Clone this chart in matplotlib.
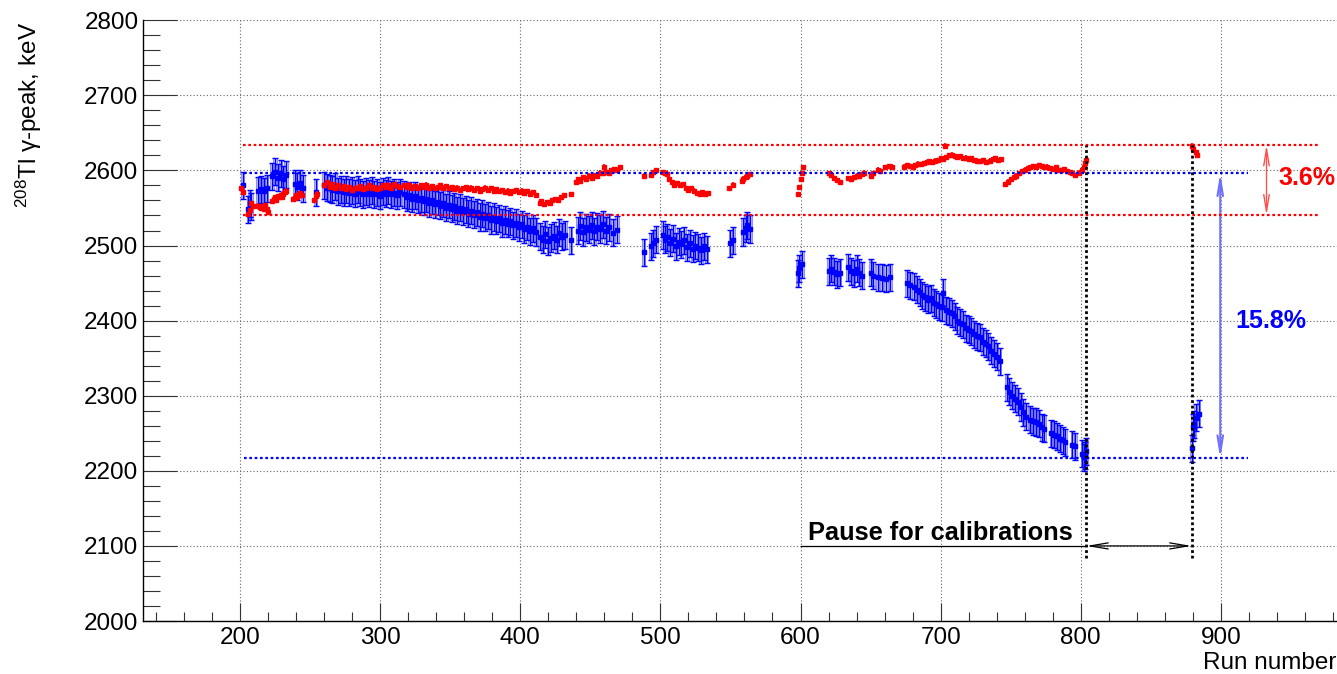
import numpy as np
import matplotlib
matplotlib.use('Agg')
import matplotlib.pyplot as plt
from matplotlib.ticker import MultipleLocator

plt.rcParams['font.family'] = ['Liberation Sans', 'DejaVu Sans']
plt.rcParams['mathtext.fontset'] = 'custom'
plt.rcParams['mathtext.rm'] = 'Liberation Sans'
plt.rcParams['mathtext.default'] = 'rm'

# red series (corrected peak position), run number / keV
red_run = [201, 202,
           206, 207, 208, 209,
           213, 214, 215, 216, 217, 218, 219, 220,
           223, 224, 225, 226, 227, 228, 229, 230, 231, 232, 233,
           238, 239, 240, 241, 242, 243, 244,
           253, 254, 255,
           260, 262, 264, 266, 268, 270, 272, 274, 276, 278,
           280, 282, 284, 286, 288, 290, 292, 294, 296, 298,
           300, 302, 304, 306, 308, 310, 312, 314,
           317, 319, 321, 323, 325, 327, 329, 331, 333, 335,
           337, 339, 341, 343, 345, 347, 349, 351, 353, 355,
           357, 359, 361, 363, 365, 367, 369, 371, 373, 375,
           377, 379, 381, 383, 385, 387, 389, 391, 393, 395,
           397, 399, 401, 403, 405, 407, 409, 411,
           414, 415, 417, 419, 421, 423, 425, 427, 429, 431, 436,
           440, 441, 443, 445, 447, 449, 451, 453, 455, 457,
           459, 460, 461, 463, 465, 467, 469, 471,
           488, 493, 495, 497,
           502, 503, 505, 506, 508, 510, 512, 514, 516, 518,
           520, 522, 524, 526, 528, 530, 532, 534,
           549, 552,
           558, 559, 561, 562, 564,
           598, 599, 600, 601, 602,
           620, 622, 624, 626, 628,
           634, 636, 638, 640, 642, 644, 645,
           650, 652, 655, 657, 660, 663, 665,
           674, 676, 678, 680, 682, 684, 686, 688, 690, 692,
           694, 696, 698, 700, 702, 703, 704, 706,
           708, 710, 712, 714, 716, 718, 720, 722, 724, 726,
           728, 730, 732, 735, 737, 739, 741, 743,
           746, 748, 750, 752, 754, 756, 758,
           760, 762, 764, 766, 768, 770, 772, 774, 776, 778,
           780, 782, 784, 786, 788, 790, 792, 794, 796,
           799, 801, 802, 803, 804,
           879, 880, 882, 883]
red_kev = [2576, 2571,
           2542, 2547, 2556, 2552,
           2553, 2551, 2550, 2552, 2549, 2554, 2548, 2545,
           2559, 2562, 2564, 2561, 2566, 2565, 2567, 2565, 2569, 2571, 2573,
           2562, 2563, 2567, 2565, 2569, 2570, 2567,
           2560, 2566, 2569,
           2580, 2584, 2578, 2582, 2577, 2580, 2576, 2579, 2575, 2578,
           2574, 2577, 2576, 2579, 2575, 2577, 2580, 2576, 2578, 2575,
           2577, 2580, 2578, 2581, 2577, 2582, 2579, 2578,
           2580, 2578, 2581, 2577, 2579, 2576, 2580, 2578, 2581, 2577,
           2579, 2576, 2578, 2580, 2577, 2579, 2576, 2578, 2575, 2577,
           2574, 2576, 2578, 2575, 2577, 2574, 2576, 2573, 2575, 2577,
           2574, 2576, 2573, 2575, 2572, 2574, 2571, 2573, 2570, 2572,
           2574, 2571, 2573, 2570, 2572, 2569, 2571, 2567,
           2556, 2559, 2555, 2558, 2557, 2560, 2562, 2561, 2564, 2567, 2568,
           2584, 2588, 2586, 2591, 2589, 2593, 2590, 2594, 2592, 2597,
           2596, 2605, 2598, 2596, 2600, 2602, 2601, 2604,
           2593, 2594, 2598, 2600,
           2598, 2597, 2595, 2588, 2584, 2581, 2583, 2580, 2582, 2576,
           2574, 2576, 2573, 2570, 2568, 2571, 2569, 2570,
           2576, 2581,
           2586, 2589, 2591, 2593, 2595,
           2568, 2578, 2588, 2596, 2604,
           2596, 2594, 2590, 2587, 2584,
           2590, 2589, 2591, 2593, 2592, 2595, 2597,
           2592, 2596, 2601, 2599, 2604, 2606, 2605,
           2605, 2607, 2606, 2604, 2607, 2609, 2608, 2610, 2611, 2612,
           2611, 2613, 2614, 2616, 2615, 2633, 2618, 2620,
           2621, 2619, 2618, 2619, 2616, 2617, 2615, 2616, 2614, 2613,
           2612, 2614, 2611, 2613, 2615, 2616, 2614, 2615,
           2582, 2585, 2588, 2591, 2593, 2596, 2599,
           2601, 2603, 2604, 2606, 2605, 2607, 2606, 2604, 2605, 2603,
           2602, 2604, 2601, 2600, 2602, 2599, 2598, 2596, 2594,
           2597, 2601, 2605, 2610, 2614,
           2633, 2628, 2624, 2620]
red_err = 3

# blue series (raw peak position)
blue_run = [202,
            206, 207, 208,
            213, 215, 217, 219,
            223, 225, 227, 229, 231, 233,
            239, 241, 243, 245,
            254,
            260, 262, 264, 266, 268, 270, 272, 274, 276, 278,
            280, 282, 284, 286, 288, 290, 292, 294, 296, 298,
            300, 302, 304, 306, 308, 310, 312, 314,
            317, 319, 321, 323, 325, 327, 329, 331, 333, 335,
            337, 339, 341, 343, 345, 347, 349, 351, 353, 355,
            357, 359, 361, 363, 365, 367, 369, 371, 373, 375,
            377, 379, 381, 383, 385, 387, 389, 391, 393, 395,
            397, 399, 401, 403, 405, 407, 409, 411,
            414, 416, 418, 420, 422, 424, 426, 428, 430, 432, 436,
            441, 443, 445, 447, 449, 451, 453, 455, 457, 459,
            461, 463, 466, 469,
            488, 493, 495, 497,
            502, 503, 505, 507, 509, 511, 513, 515, 517, 519,
            521, 523, 525, 527, 529, 531, 533,
            550, 552,
            559, 561, 562, 564,
            598, 599, 601,
            620, 622, 624, 626, 628,
            634, 636, 638, 640, 642, 644,
            650, 652, 655, 658, 661, 664,
            676, 678, 681, 683, 685, 687, 689, 691, 693, 695,
            697, 699, 701, 702, 704, 706, 708, 710, 712, 714,
            716, 718, 720, 722, 724, 726, 728, 730, 732, 734,
            736, 738, 740, 742,
            747, 749, 751, 753, 755, 757, 759, 761, 764, 766,
            768, 770, 772, 774, 779, 781, 783, 785, 787, 789,
            794, 796,
            801, 802, 803, 804,
            879, 880, 881, 882, 884]
blue_kev = [2580,
            2548, 2556, 2552,
            2573, 2575, 2572, 2576,
            2592, 2598, 2590, 2596, 2588, 2594,
            2582, 2578, 2583, 2576,
            2571,
            2580, 2577, 2576, 2574, 2578, 2572, 2575, 2571, 2574, 2570,
            2573, 2569, 2574, 2571, 2568, 2572, 2569, 2573, 2568, 2571,
            2566, 2572, 2569, 2573, 2568, 2570, 2567, 2571,
            2568, 2564, 2567, 2562, 2566, 2561, 2563, 2559, 2562, 2556,
            2560, 2555, 2558, 2553, 2556, 2550, 2554, 2549, 2552, 2546,
            2550, 2545, 2548, 2542, 2546, 2541, 2544, 2538, 2542, 2537,
            2540, 2534, 2538, 2533, 2536, 2530, 2534, 2529, 2532, 2527,
            2530, 2524, 2528, 2522, 2525, 2519, 2523, 2518,
            2512, 2508, 2515, 2506, 2510, 2513, 2508, 2517, 2512, 2514, 2507,
            2520, 2526, 2518, 2524, 2521, 2527, 2519, 2525, 2522, 2528,
            2520, 2524, 2517, 2521,
            2491, 2499, 2503, 2508,
            2514, 2508, 2511, 2504, 2509, 2499, 2505, 2502, 2507, 2498,
            2503, 2496, 2500, 2497, 2494, 2499, 2495,
            2503, 2507,
            2518, 2523, 2527, 2522,
            2463, 2470, 2475,
            2466, 2469, 2465, 2462, 2464,
            2471, 2466, 2463, 2469, 2464, 2460,
            2464, 2460, 2458, 2457, 2456, 2458,
            2450, 2447, 2445, 2441, 2438, 2434, 2431, 2428, 2430, 2424,
            2422, 2419, 2418, 2437, 2414, 2412, 2410, 2406, 2400, 2397,
            2395, 2390, 2388, 2386, 2382, 2379, 2378, 2372, 2369, 2366,
            2360, 2356, 2352, 2346,
            2311, 2305, 2300, 2296, 2292, 2285, 2278, 2272, 2268, 2266,
            2265, 2263, 2258, 2256, 2250, 2248, 2246, 2243, 2241, 2238,
            2235, 2233,
            2223, 2218, 2221, 2226,
            2230, 2258, 2262, 2271, 2276]
blue_err = 18

# reference levels and annotations
red_levels = [2540, 2634]
red_span = [202, 970]
blue_levels = [2216.5, 2596.5]
blue_span = [203, 919]
pause_runs = [804, 879]
pause_kev = [2084, 2634]
pause_arrow_kev = 2100

fig = plt.figure(figsize=(13.37, 6.74), dpi=100)
ax = fig.add_axes([0.1067, 0.0786, 0.8933, 0.8914])
ax.set_xlim(130.6, 982.8)
ax.set_ylim(2000, 2800)

ax.grid(True, which='major', color='#666666', ls=(0, (1, 2)), lw=0.8, zorder=0)
ax.set_axisbelow(True)

# blue: boxes + error bars
bk = np.array(blue_kev, dtype=float)
ax.bar(blue_run, 2 * blue_err, bottom=bk - blue_err, width=2.4,
       color=(0.55, 0.55, 1.0, 0.3), edgecolor=(0.5, 0.5, 1.0, 0.85),
       linewidth=0.8, zorder=2)
ax.errorbar(blue_run, blue_kev, yerr=blue_err, fmt='s', ms=2.5, color='#0000ff',
            ecolor='#0000ff', elinewidth=1, capsize=2, capthick=1, zorder=3)

# red points
ax.errorbar(red_run, red_kev, yerr=red_err, fmt='s', ms=2.4, color='#ff0000',
            ecolor='#ff0000', elinewidth=1.2, capsize=0, zorder=4)

# dotted reference lines
for lv in red_levels:
    ax.plot(red_span, [lv, lv], color='#ff0000', ls=(0, (1.2, 1.2)), lw=1.6, zorder=5)
for lv in blue_levels:
    ax.plot(blue_span, [lv, lv], color='#0000ff', ls=(0, (1.2, 1.2)), lw=1.6, zorder=5)
for r in pause_runs:
    ax.plot([r, r], pause_kev, color='black', ls=(0, (1, 1)), lw=2, zorder=5)

# spread arrows
ax.annotate('', xy=(932.5, red_levels[0]), xytext=(932.5, red_levels[1]),
            arrowprops=dict(arrowstyle='<->,head_length=1.2,head_width=0.2',
                            color='#ff5050', lw=1, shrinkA=0, shrinkB=0))
ax.annotate('', xy=(899.5, blue_levels[0]), xytext=(899.5, blue_levels[1]),
            arrowprops=dict(arrowstyle='<->,head_length=1.2,head_width=0.2',
                            color='#7070ff', lw=1.5, shrinkA=0, shrinkB=0))
ax.text(941, 2590, '3.6%', color='#ff0000', fontweight='bold', fontsize=18,
        ha='left', va='center')
ax.text(910.5, 2400, '15.8%', color='#0000ff', fontweight='bold', fontsize=18,
        ha='left', va='center')

# pause annotation
ax.plot([600, pause_runs[0]], [pause_arrow_kev, pause_arrow_kev], color='black', lw=0.9)
ax.annotate('', xy=(pause_runs[0], pause_arrow_kev), xytext=(pause_runs[1], pause_arrow_kev),
            arrowprops=dict(arrowstyle='<->,head_length=1.3,head_width=0.22',
                            color='black', lw=0.9, shrinkA=0, shrinkB=0))
ax.text(605.3, 2108.5, 'Pause for calibrations', fontweight='bold', fontsize=18.3,
        ha='left', va='baseline')

# axes style
ax.xaxis.set_major_locator(MultipleLocator(100))
ax.xaxis.set_minor_locator(MultipleLocator(20))
ax.yaxis.set_major_locator(MultipleLocator(100))
ax.yaxis.set_minor_locator(MultipleLocator(20))
ax.tick_params(axis='both', which='both', direction='in', colors='#333333', width=0.8,
               labelcolor='black', labelsize=17.5)
ax.tick_params(axis='y', which='major', length=24.5, pad=3)
ax.tick_params(axis='y', which='minor', length=12)
ax.tick_params(axis='x', which='major', length=13, pad=4)
ax.tick_params(axis='x', which='minor', length=6.5)
ax.spines['top'].set_visible(False)
ax.spines['right'].set_visible(False)
for s in ('left', 'bottom'):
    ax.spines[s].set_linewidth(1.0)

fig.text(0.0215, 0.968, '$^{208}$Tl γ-peak, keV', rotation=90, ha='center', va='top',
         fontsize=17.5)
fig.text(0.9995, 0.008, 'Run number', ha='right', va='baseline', fontsize=17.5)

fig.savefig('out.png', dpi=100)
